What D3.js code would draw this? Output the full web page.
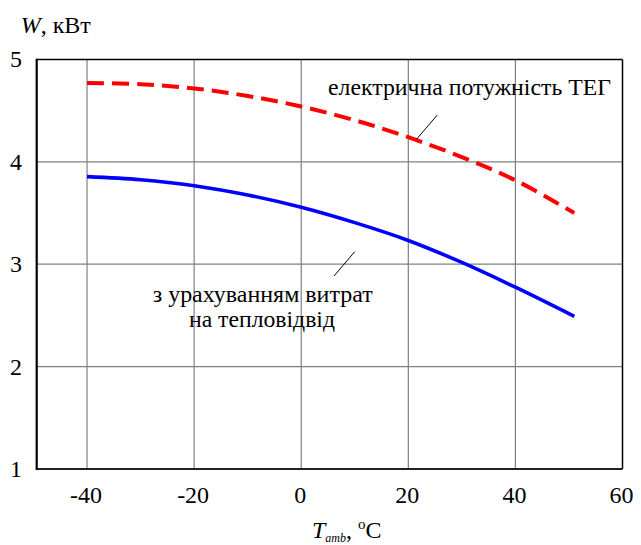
<!DOCTYPE html>
<html>
<head>
<meta charset="utf-8">
<script src="https://cdn.jsdelivr.net/npm/d3@7"></script>
</head>
<body style="margin:0">
<script>
// ---- data ----
const temps = [-40, -30, -20, -10, 0, 10, 20, 30, 40, 51];
const tegPower = [4.77, 4.758, 4.716, 4.643, 4.54, 4.406, 4.24, 4.046, 3.82, 3.50];
const netPower = [3.855, 3.825, 3.767, 3.676, 3.556, 3.406, 3.232, 3.017, 2.775, 2.49];
const xTicks = [-40, -20, 0, 20, 40, 60];
const yTicks = [1, 2, 3, 4, 5];
const labelTeg = "електрична потужність ТЕГ";
const labelNet1 = "з урахуванням витрат";
const labelNet2 = "на тепловідвід";

const FF = '"Liberation Serif", "Times New Roman", Times, serif';
const W = 641, H = 545;
const svg = d3.select("body").append("svg").attr("width", W).attr("height", H);
svg.append("rect").attr("width", W).attr("height", H).attr("fill", "#fff");

function txt(sel) { return sel.append("text").style("font-family", FF).attr("fill", "#000"); }

const x = d3.scaleLinear().domain([-49.4, 60]).range([36.7, 622.5]);
const y = d3.scaleLinear().domain([1, 5]).range([469, 59.4]);

// grid
const g = svg.append("g");
g.selectAll(".vg").data(xTicks.filter(d => d < 60)).enter().append("line")
  .attr("x1", d => x(d)).attr("x2", d => x(d))
  .attr("y1", y(5)).attr("y2", y(1))
  .attr("stroke", "#808080").attr("stroke-width", 1.2);
g.selectAll(".hg").data(yTicks.filter(d => d > 1 && d < 5)).enter().append("line")
  .attr("x1", x.range()[0]).attr("x2", x.range()[1])
  .attr("y1", d => y(d)).attr("y2", d => y(d))
  .attr("stroke", "#808080").attr("stroke-width", 1.2);

// frame
g.append("line").attr("x1", x.range()[0]).attr("x2", x.range()[1]).attr("y1", y(5)).attr("y2", y(5))
  .attr("stroke", "#000").attr("stroke-width", 1.5);
g.append("line").attr("x1", x.range()[1]).attr("x2", x.range()[1]).attr("y1", y(5)).attr("y2", y(1))
  .attr("stroke", "#000").attr("stroke-width", 1.5);
g.append("line").attr("x1", x.range()[0]).attr("x2", x.range()[1]).attr("y1", y(1)).attr("y2", y(1))
  .attr("stroke", "#222").attr("stroke-width", 2);
g.append("line").attr("x1", x.range()[0]).attr("x2", x.range()[0]).attr("y1", y(5) - 0.75).attr("y2", y(1) + 1)
  .attr("stroke", "#000").attr("stroke-width", 2.2);

// tick labels
xTicks.forEach(d => {
  txt(svg).attr("x", x(d) - 1).attr("y", 503).attr("text-anchor", "middle")
    .attr("font-size", 24).text(d);
});
yTicks.forEach(d => {
  txt(svg).attr("x", 22).attr("y", y(d) + 8).attr("text-anchor", "end")
    .attr("font-size", 24).text(d);
});

// lines
const line = d3.line().x((d, i) => x(temps[i])).y(d => y(d)).curve(d3.curveCatmullRom);
svg.append("path").attr("d", line(tegPower)).attr("fill", "none")
  .attr("stroke", "#ff0000").attr("stroke-width", 4).attr("stroke-dasharray", "17,8");
svg.append("path").attr("d", line(netPower)).attr("fill", "none")
  .attr("stroke", "#0000ff").attr("stroke-width", 3.6);

// annotations
svg.append("line").attr("x1", 416.7).attr("y1", 139).attr("x2", 437.3).attr("y2", 115)
  .attr("stroke", "#000").attr("stroke-width", 1);
svg.append("line").attr("x1", 334).attr("y1", 276).attr("x2", 354.7).attr("y2", 251.7)
  .attr("stroke", "#000").attr("stroke-width", 1);
txt(svg).attr("x", 328).attr("y", 95).attr("font-size", 24)
  .attr("textLength", 283).attr("lengthAdjust", "spacingAndGlyphs").text(labelTeg);
txt(svg).attr("x", 152.7).attr("y", 301.5).attr("font-size", 24)
  .attr("textLength", 220).attr("lengthAdjust", "spacingAndGlyphs").text(labelNet1);
txt(svg).attr("x", 189).attr("y", 327).attr("font-size", 24)
  .attr("textLength", 146).attr("lengthAdjust", "spacingAndGlyphs").text(labelNet2);

// axis titles
const yt = txt(svg).attr("x", 20.7).attr("y", 33).attr("font-size", 24);
yt.append("tspan").attr("font-style", "italic").text("W");
yt.append("tspan").text(", кВт");

const xtt = txt(svg).attr("x", 312).attr("y", 538).attr("font-size", 24);
xtt.append("tspan").attr("font-style", "italic").text("T");
xtt.append("tspan").attr("font-style", "italic").attr("font-size", 12).attr("dy", 4).text("amb");
xtt.append("tspan").attr("dy", -4).text(", ");
xtt.append("tspan").attr("font-size", 15).attr("dy", -9).text("o");
xtt.append("tspan").attr("dy", 9).text("C");
</script>
</body>
</html>
